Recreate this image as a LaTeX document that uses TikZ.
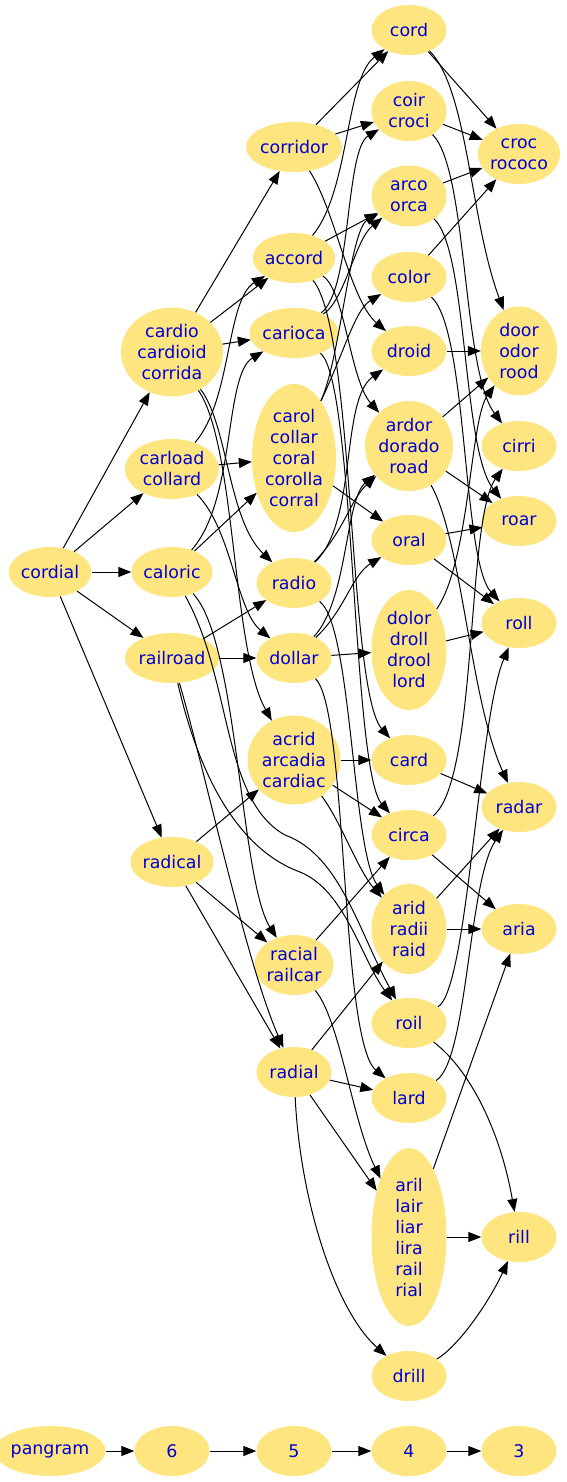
\documentclass[tikz,border=0pt]{standalone}
\usepackage{fontspec}
\setmainfont{DejaVu Sans}
\usepackage{tikz}
\usetikzlibrary{arrows.meta,shapes.geometric}
\definecolor{wordfill}{RGB}{255,229,127}
\definecolor{wordtext}{RGB}{0,0,210}

\begin{document}
\begin{tikzpicture}[x=1pt, y=-1pt,
  word/.style={ellipse, fill=wordfill, text=wordtext, inner sep=0pt, align=center,
    minimum width=75pt, minimum height=50pt, font=\fontsize{17.4}{21}\selectfont},
  arr/.style={-{Triangle[length=13pt,width=10pt]}, line width=1pt}]
\useasboundingbox (0,0) rectangle (566,1482);
% seven letters
\node[word] (cordial) at (50,572) {cordial};
% six letters
\node[word, minimum width=102pt, minimum height=89pt] (cardio) at (172,352) {cardio\\cardioid\\corrida};
\node[word, minimum width=94pt, minimum height=60pt] (carload) at (172,469) {carload\\collard};
\node[word] (caloric) at (172,572) {caloric};
\node[word, minimum width=77pt] (railroad) at (172,658) {railroad};
\node[word] (radical) at (172,862) {radical};
% five letters
\node[word, minimum width=77pt] (corridor) at (294,147) {corridor};
\node[word] (accord) at (294,258) {accord};
\node[word] (carioca) at (294,333) {carioca};
\node[word, minimum width=84pt, minimum height=148pt] (carol) at (294,458) {carol\\collar\\coral\\corolla\\corral};
\node[word] (radio) at (294,583) {radio};
\node[word] (dollar) at (294,658) {dollar};
\node[word, minimum width=93pt, minimum height=89pt] (acrid) at (294,760) {acrid\\arcadia\\cardiac};
\node[word, minimum width=79pt, minimum height=60pt] (racial) at (294,965) {racial\\railcar};
\node[word] (radial) at (294,1072) {radial};
% four letters
\node[word] (cord) at (409,30) {cord};
\node[word, minimum height=60pt] (coir) at (409,111) {coir\\croci};
\node[word, minimum height=61pt] (arco) at (409,196) {arco\\orca};
\node[word] (color) at (409,277) {color};
\node[word] (droid) at (409,351) {droid};
\node[word, minimum width=88pt, minimum height=90pt] (ardor) at (409,446) {ardor\\dorado\\road};
\node[word] (oral) at (409,540) {oral};
\node[word, minimum height=120pt] (dolor) at (409,650) {dolor\\droll\\drool\\lord};
\node[word] (card) at (409,760) {card};
\node[word] (circa) at (409,835) {circa};
\node[word, minimum height=90pt] (arid) at (409,929) {arid\\radii\\raid};
\node[word] (roil) at (409,1023) {roil};
\node[word] (lard) at (409,1098) {lard};
\node[word, minimum height=178pt] (aril) at (409,1237) {aril\\lair\\liar\\lira\\rail\\rial};
\node[word] (drill) at (409,1376) {drill};
% three letters
\node[word, minimum width=82pt, minimum height=60pt] (croc) at (519,154) {croc\\rococo};
\node[word, minimum width=76pt, minimum height=89pt] (door) at (519,351) {door\\odor\\rood};
\node[word] (cirri) at (519,446) {cirri};
\node[word] (roar) at (519,521) {roar};
\node[word] (roll) at (519,623) {roll};
\node[word] (radar) at (519,807) {radar};
\node[word] (aria) at (519,929) {aria};
\node[word] (rill) at (519,1237) {rill};
% rank row
\node[word, minimum width=90pt] (pangram) at (50,1451) {pangram};
\node[word] (rsix) at (172,1451) {6};
\node[word] (rfive) at (294,1451) {5};
\node[word] (rfour) at (409,1451) {4};
\node[word] (rthree) at (519,1451) {3};
\draw[arr] (pangram) -- (rsix);
\draw[arr] (rsix) -- (rfive);
\draw[arr] (rfive) -- (rfour);
\draw[arr] (rfour) -- (rthree);
% seven to six
\draw[arr] (cordial) -- (cardio);
\draw[arr] (cordial) -- (carload);
\draw[arr] (cordial) -- (caloric);
\draw[arr] (cordial) -- (railroad);
\draw[arr] (cordial) -- (radical);
% six to five
\draw[arr] (cardio) -- (corridor);
\draw[arr] (cardio) -- (accord);
\draw[arr] (cardio) -- (carioca);
\draw[arr] (cardio) .. controls (228,425) and (228,520) .. (radio);
\draw[arr] (cardio) .. controls (236,445) and (232,650) .. (acrid);
\draw[arr] (carload) .. controls (232,400) and (226,300) .. (accord);
\draw[arr] (carload) -- (carol);
\draw[arr] (carload) .. controls (232,530) and (236,610) .. (dollar);
\draw[arr] (caloric) .. controls (236,500) and (224,375) .. (carioca);
\draw[arr] (caloric) -- (carol);
\draw[arr] (caloric) .. controls (238,640) and (240,880) .. (racial);
\draw[arr] (caloric) .. controls (232,680) and (222,800) .. (285,835) .. controls (340,855) and (358,930) .. (roil);
\draw[arr] (railroad) -- (radio);
\draw[arr] (railroad) -- (dollar);
\draw[arr] (railroad) .. controls (205,770) and (245,960) .. (radial);
\draw[arr] (railroad) .. controls (200,780) and (240,850) .. (300,872) .. controls (345,890) and (362,960) .. (roil);
\draw[arr] (radical) -- (acrid);
\draw[arr] (radical) -- (racial);
\draw[arr] (radical) -- (radial);
% five to four
\draw[arr] (corridor) -- (cord);
\draw[arr] (corridor) -- (coir);
\draw[arr] (corridor) .. controls (335,210) and (350,300) .. (droid);
\draw[arr] (accord) .. controls (350,190) and (345,80) .. (cord);
\draw[arr] (accord) -- (arco);
\draw[arr] (accord) .. controls (345,290) and (350,380) .. (ardor);
\draw[arr] (accord) .. controls (355,330) and (348,690) .. (card);
\draw[arr] (carioca) .. controls (352,290) and (345,150) .. (coir);
\draw[arr] (carioca) .. controls (345,300) and (355,240) .. (arco);
\draw[arr] (carioca) .. controls (355,380) and (352,770) .. (circa);
\draw[arr] (carol) .. controls (340,360) and (350,230) .. (arco);
\draw[arr] (carol) .. controls (345,350) and (355,310) .. (color);
\draw[arr] (carol) -- (oral);
\draw[arr] (radio) .. controls (358,520) and (340,400) .. (droid);
\draw[arr] (radio) .. controls (345,530) and (350,500) .. (ardor);
\draw[arr] (radio) .. controls (352,625) and (352,850) .. (arid);
\draw[arr] (dollar) -- (dolor);
\draw[arr] (dollar) .. controls (345,610) and (352,575) .. (oral);
\draw[arr] (dollar) .. controls (348,600) and (345,500) .. (ardor);
\draw[arr] (dollar) .. controls (348,710) and (340,1040) .. (lard);
\draw[arr] (acrid) -- (card);
\draw[arr] (acrid) -- (circa);
\draw[arr] (acrid) .. controls (340,820) and (358,870) .. (arid);
\draw[arr] (racial) -- (circa);
\draw[arr] (racial) .. controls (340,1020) and (352,1120) .. (aril);
\draw[arr] (radial) -- (arid);
\draw[arr] (radial) -- (lard);
\draw[arr] (radial) -- (aril);
\draw[arr] (radial) .. controls (300,1200) and (335,1310) .. (drill);
% four to three
\draw[arr] (cord) -- (croc);
\draw[arr] (cord) .. controls (468,90) and (470,220) .. (door);
\draw[arr] (coir) -- (croc);
\draw[arr] (coir) .. controls (468,170) and (462,370) .. (cirri);
\draw[arr] (arco) -- (croc);
\draw[arr] (arco) .. controls (468,250) and (462,450) .. (roar);
\draw[arr] (color) -- (croc);
\draw[arr] (color) .. controls (468,330) and (462,560) .. (roll);
\draw[arr] (droid) -- (door);
\draw[arr] (ardor) -- (door);
\draw[arr] (ardor) -- (roar);
\draw[arr] (ardor) .. controls (462,540) and (470,700) .. (radar);
\draw[arr] (oral) -- (roar);
\draw[arr] (oral) -- (roll);
\draw[arr] (dolor) .. controls (470,560) and (470,420) .. (door);
\draw[arr] (dolor) -- (roll);
\draw[arr] (card) -- (radar);
\draw[arr] (circa) .. controls (478,780) and (466,520) .. (cirri);
\draw[arr] (circa) -- (aria);
\draw[arr] (arid) -- (radar);
\draw[arr] (arid) -- (aria);
\draw[arr] (roil) .. controls (468,990) and (478,720) .. (roll);
\draw[arr] (roil) .. controls (470,1070) and (500,1130) .. (rill);
\draw[arr] (lard) .. controls (468,1060) and (468,880) .. (radar);
\draw[arr] (aril) -- (aria);
\draw[arr] (aril) -- (rill);
\draw[arr] (drill) .. controls (460,1345) and (490,1300) .. (rill);
\end{tikzpicture}
\end{document}
